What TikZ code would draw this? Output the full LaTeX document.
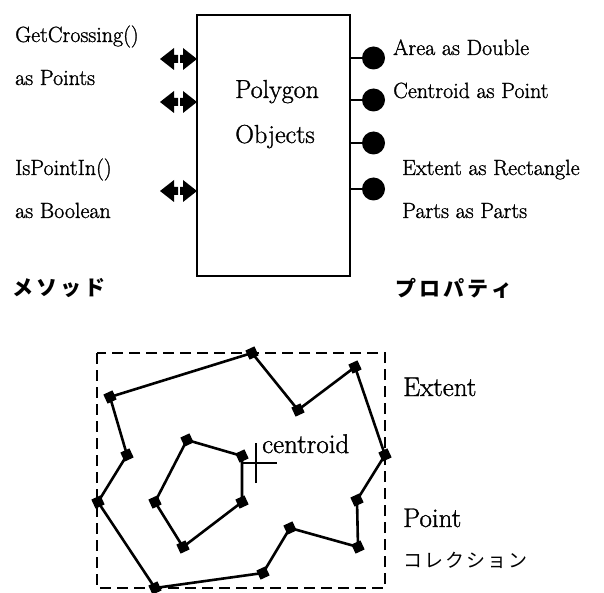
\documentclass[tikz,border=0pt]{standalone}
\usepackage{fontspec}
\setmainfont{Latin Modern Roman}[FakeBold=1.2]
\newfontfamily\jp{Noto Sans CJK JP}
\newcommand{\jgap}{\hspace{3pt}}
\newcommand{\kgap}{\hspace{2pt}}
\begin{document}
\begin{tikzpicture}[x=1pt,y=-1pt,
  lbl/.style={anchor=base west,inner sep=0pt,font=\fontsize{22}{26}\selectfont},
  big/.style={inner sep=0pt,font=\fontsize{27}{32}\selectfont},
  objbox/.style={draw,line width=1.8pt,minimum width=153pt,minimum height=261pt,inner sep=0pt},
  propdot/.style={circle,fill,minimum size=23pt,inner sep=0pt},
  vtx/.style={rectangle,fill,minimum size=10pt,inner sep=0pt,rotate=25},
  methodport/.pic={
    \fill (-37,0) -- (-23,-11) -- (-23,-4) -- (-19,-4) -- (-19,4) -- (-23,4) -- (-23,11) -- cycle;
    \fill (0,0) -- (-14,-11) -- (-14,-4) -- (-17,-4) -- (-17,4) -- (-14,4) -- (-14,11) -- cycle;
  }]
\useasboundingbox (0,0) rectangle (604,593);

% ---- object box with its interface ----
\node[objbox] (box) at (273.5,145.5) {};
\node[big,anchor=base,font=\fontsize{26}{30}\selectfont] (t1) at (277,98) {Polygon};
\node[big,anchor=base,font=\fontsize{26}{30}\selectfont] (t2) at (275,143) {Objects};

% methods (left)
\coordinate (m1) at (197,59);
\coordinate (m2) at (197,102);
\coordinate (m3) at (197,191);
\pic at (m1) {methodport};
\pic at (m2) {methodport};
\pic at (m3) {methodport};
\node[lbl] (l1) at (15,42) {GetCrossing()};
\node[lbl] (l2) at (15,85) {as Points};
\node[lbl] (l3) at (15,175) {IsPointIn()};
\node[lbl] (l4) at (15,218) {as Boolean};

% properties (right)
\foreach \i/\y in {1/58,2/100,3/143,4/189}{
  \coordinate (p\i) at (350,\y);
  \node[propdot] (d\i) at (373.5,\y) {};
  \draw[line width=1.8pt] (p\i) -- (d\i);
}
\node[lbl] (r1) at (393,55) {Area as Double};
\node[lbl] (r2) at (393,98) {Centroid as Point};
\node[lbl] (r3) at (402,175) {Extent as Rectangle};
\node[lbl] (r4) at (402,218) {Parts as Parts};

\node[anchor=west,inner sep=0pt,font=\jp\bfseries\fontsize{21}{24}\selectfont] (jm) at (12,288)
  {メ\jgap ソ\jgap ッ\jgap ド};
\node[anchor=west,inner sep=0pt,font=\jp\bfseries\fontsize{21}{24}\selectfont] (jp) at (395,288)
  {プ\jgap ロ\jgap パ\jgap テ\jgap ィ};

% ---- polygon with extent and centroid ----
\draw[line width=2.6pt,dash pattern=on 11pt off 6pt] (97,353) rectangle (385,588);

\node[vtx] (o1) at (252,353) {};
\node[vtx] (o2) at (298,410) {};
\node[vtx] (o3) at (355,367) {};
\node[vtx] (o4) at (385,455) {};
\node[vtx] (o5) at (357,500) {};
\node[vtx] (o6) at (358,547) {};
\node[vtx] (o7) at (290,528) {};
\node[vtx] (o8) at (263,573) {};
\node[vtx] (o9) at (155,588) {};
\node[vtx] (o10) at (98,502) {};
\node[vtx] (o11) at (127,455) {};
\node[vtx] (o12) at (110,397) {};
\draw[line width=2.6pt,line join=round]
  (o1.center) -- (o2.center) -- (o3.center) -- (o4.center) -- (o5.center) -- (o6.center)
  -- (o7.center) -- (o8.center) -- (o9.center) -- (o10.center) -- (o11.center) -- (o12.center) -- cycle;

\node[vtx] (i1) at (187,440) {};
\node[vtx] (i2) at (242,456) {};
\node[vtx] (i3) at (242,502) {};
\node[vtx] (i4) at (183,547) {};
\node[vtx] (i5) at (155,502) {};
\draw[line width=2.6pt,line join=round]
  (i1.center) -- (i2.center) -- (i3.center) -- (i4.center) -- (i5.center) -- cycle;

% centroid marker
\coordinate (c) at (256,463);
\draw[line width=1.6pt] ([yshift=-20pt]c) -- ([yshift=20pt]c);
\draw[line width=1.6pt] ([xshift=-13pt]c) -- ([xshift=21pt]c);
\node[big,anchor=base west] (cl) at (262,453) {centroid};

\node[big,anchor=base west] (ex) at (403,396) {Extent};
\node[big,anchor=base west] (pt) at (403,527) {Point};
\node[anchor=west,inner sep=0pt,font=\jp\fontsize{19}{22}\selectfont] (jc) at (403,560)
  {コ\kgap レ\kgap ク\kgap シ\kgap ョ\kgap ン};
\end{tikzpicture}
\end{document}
